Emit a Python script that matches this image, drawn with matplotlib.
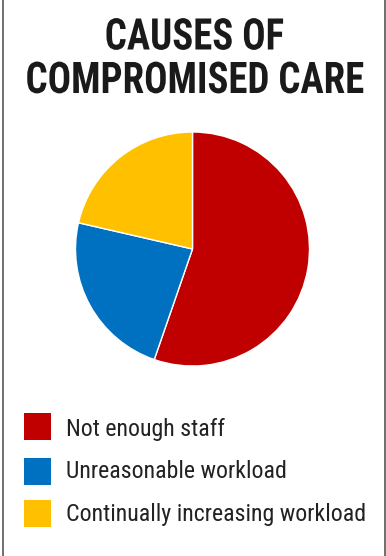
import matplotlib
matplotlib.use("Agg")
import matplotlib.pyplot as plt
from matplotlib.patches import Rectangle
from matplotlib.lines import Line2D
from matplotlib import patheffects
from matplotlib.transforms import Affine2D

title_lines = ["CAUSES OF", "COMPROMISED CARE"]
categories = ["Not enough staff", "Unreasonable workload", "Continually increasing workload"]
values = [55.3, 23.3, 21.4]
colors = ["#C00000", "#0070C0", "#FFC000"]

W, H = 386, 556
fig = plt.figure(figsize=(W / 100, H / 100), dpi=100)
fig.patch.set_facecolor("white")


def fx(px):
    return px / W


def fy(py):
    return 1 - py / H


class HSqueeze(patheffects.AbstractPathEffect):
    """Narrow the glyphs horizontally around the string's centre (tight condensed look)."""

    def __init__(self, sx):
        super().__init__()
        self.sx = sx

    def draw_path(self, renderer, gc, tpath, affine, rgbFace=None):
        ext = tpath.get_extents(affine)
        c = 0.5 * (ext.x0 + ext.x1)
        t = affine + Affine2D().translate(-c, 0).scale(self.sx, 1).translate(c, 0)
        renderer.draw_path(gc, tpath, t, rgbFace)


# border lines left and right
fig.add_artist(Line2D([fx(2.5), fx(2.5)], [0, 1], color="#555555", lw=1.2, transform=fig.transFigure))
fig.add_artist(Line2D([fx(385.3), fx(385.3)], [0, 1], color="#555555", lw=1.2, transform=fig.transFigure))

# title
tfont = dict(family="Roboto Condensed", weight="bold", fontsize=31.4, color="#1a1a1a",
             ha="center", va="baseline", path_effects=[HSqueeze(0.89)])
fig.text(fx(194.5), fy(49.5), title_lines[0], **tfont)
fig.text(fx(195), fy(93), title_lines[1], **tfont)

# pie
cx, cy, r = 192.5, 249, 117
ax = fig.add_axes([fx(cx - r), fy(cy + r), (2 * r) / W, (2 * r) / H])
ax.pie(values, colors=colors, startangle=90, counterclock=False,
       wedgeprops=dict(edgecolor="white", linewidth=1.0))
ax.set_xlim(-1, 1)
ax.set_ylim(-1, 1)
ax.set_aspect("equal")
ax.axis("off")

# legend
sq_tops = [413, 458, 500]
baselines = [436, 478, 520.5]
for cat, col, top, base in zip(categories, colors, sq_tops, baselines):
    fig.add_artist(Rectangle((fx(24), fy(top + 27)), 27 / W, 27 / H, facecolor=col,
                             edgecolor="none", transform=fig.transFigure))
    fig.text(fx(66), fy(base), cat, family="Roboto Condensed", fontsize=17.2,
             color="#222222", ha="left", va="baseline")

fig.savefig("out.png", dpi=100, facecolor="white")
